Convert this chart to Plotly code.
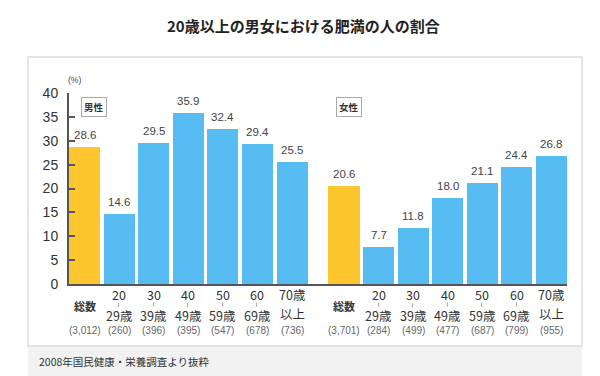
import plotly.graph_objects as go

# ---- data ----
title_text = "20歳以上の男女における肥満の人の割合"
footnote_text = "2008年国民健康・栄養調査より抜粋"
total_label = "総数"
age_top = ["", "20", "30", "40", "50", "60", "70歳"]
age_bottom = ["", "29歳", "39歳", "49歳", "59歳", "69歳", "以上"]
male_values = [28.6, 14.6, 29.5, 35.9, 32.4, 29.4, 25.5]
female_values = [20.6, 7.7, 11.8, 18.0, 21.1, 24.4, 26.8]
male_n = ["3,012", "260", "396", "395", "547", "678", "736"]
female_n = ["3,701", "284", "499", "477", "687", "799", "955"]
group_labels = ["男性", "女性"]
y_ticks = [0, 5, 10, 15, 20, 25, 30, 35, 40]

# ---- style ----
FONT = "Noto Sans CJK JP"
NUMFONT = "Liberation Sans, Noto Sans CJK JP"
ORANGE = "#FDC52E"
BLUE = "#56BCF2"
W, H = 600, 376
L, R, T, B = 69, 567, 93, 284  # plot area pixels


def px(x):
    return (x - L) / (R - L)


def py(y):
    return (B - y) / (B - T)


male_x = list(range(len(male_values)))
female_x = [len(male_values) + 0.5 + i for i in range(len(female_values))]

colors_m = [ORANGE] + [BLUE] * (len(male_values) - 1)
colors_f = [ORANGE] + [BLUE] * (len(female_values) - 1)

fig = go.Figure()
fig.add_trace(go.Bar(x=male_x, y=male_values, marker=dict(color=colors_m, line=dict(width=0)),
                     width=0.9, hoverinfo="skip", showlegend=False))
fig.add_trace(go.Bar(x=female_x, y=female_values, marker=dict(color=colors_f, line=dict(width=0)),
                     width=0.9, hoverinfo="skip", showlegend=False))

ann = []
# value labels
for xs, vs in ((male_x, male_values), (female_x, female_values)):
    for x, v in zip(xs, vs):
        ann.append(dict(x=x, y=v, xref="x", yref="y", text=f"{v:.1f}", showarrow=False,
                        yanchor="bottom", yshift=4, font=dict(family=NUMFONT, size=11.5, color="#444")))

# category labels
for xs, ns in ((male_x, male_n), (female_x, female_n)):
    for i, (x, n) in enumerate(zip(xs, ns)):
        if i == 0:
            ann.append(dict(x=x, y=py(305.5), xref="x", yref="paper", text=f"<b>{total_label}</b>",
                            showarrow=False, font=dict(family=FONT, size=11, color="#333"), yanchor="middle"))
        else:
            has_wave = not age_top[i].endswith("歳")
            ann.append(dict(x=x, y=py(294.5), xref="x", yref="paper", text=age_top[i], showarrow=False,
                            font=dict(family=FONT, size=12.5, color="#333"), yanchor="middle"))
            if has_wave:
                ann.append(dict(x=x, y=py(305), xref="x", yref="paper", text="~", showarrow=False,
                                textangle=90, font=dict(family=NUMFONT, size=8, color="#444"),
                                yanchor="middle", xanchor="center"))
            ann.append(dict(x=x, y=py(315.5 if has_wave else 313), xref="x", yref="paper",
                            text=age_bottom[i], showarrow=False,
                            font=dict(family=FONT, size=12.5, color="#333"), yanchor="middle"))
        ann.append(dict(x=x, y=py(330.5), xref="x", yref="paper", text=f"({n})", showarrow=False,
                        font=dict(family=NUMFONT, size=10, color="#666"), yanchor="middle"))

# group boxes
for label, cx in zip(group_labels, (93.5, 349)):
    ann.append(dict(x=px(cx), y=py(107), xref="paper", yref="paper", text=f"<b>{label}</b>", showarrow=False,
                    font=dict(family=FONT, size=9.5, color="#333"), bordercolor="#aaa", borderwidth=1,
                    borderpad=2, bgcolor="white", xanchor="center", yanchor="middle"))

# unit
ann.append(dict(x=px(74), y=py(80), xref="paper", yref="paper", text="(%)", showarrow=False,
                font=dict(family=NUMFONT, size=8.5, color="#444"), xanchor="center", yanchor="middle"))
# title
ann.append(dict(x=px(303), y=py(25), xref="paper", yref="paper", text=f"<b>{title_text}</b>", showarrow=False,
                font=dict(family=FONT, size=15, color="#222"), xanchor="center", yanchor="middle"))
# footnote
ann.append(dict(x=px(37), y=py(361), xref="paper", yref="paper", text=footnote_text, showarrow=False,
                font=dict(family=FONT, size=10.5, color="#333"), xanchor="left", yanchor="middle"))

shapes = [
    dict(type="rect", xref="paper", yref="paper", x0=px(28), x1=px(582), y0=py(376), y1=py(346),
         fillcolor="#F2F2F2", line=dict(width=0), layer="below"),
    dict(type="rect", xref="paper", yref="paper", x0=px(28), x1=px(582), y0=py(346), y1=py(57),
         fillcolor="rgba(0,0,0,0)", line=dict(color="#DDDDDD", width=1.5), layer="below"),
]

fig.update_layout(
    width=W, height=H,
    margin=dict(l=L, r=W - R, t=T, b=H - B, pad=0),
    paper_bgcolor="white", plot_bgcolor="white",
    bargap=0, barmode="overlay",
    annotations=ann, shapes=shapes,
    font=dict(family=FONT),
    xaxis=dict(range=[-0.45, female_x[-1] + 0.45], showticklabels=False, ticks="", showgrid=False,
               zeroline=False, showline=True, linecolor="#555", linewidth=2, fixedrange=True),
    yaxis=dict(range=[0, 40], tickvals=y_ticks, ticks="inside", ticklen=6, tickwidth=1.5, tickcolor="#555",
               showgrid=False, zeroline=False, showline=True, linecolor="#555", linewidth=2,
               tickfont=dict(family=NUMFONT, size=14, color="#333"), ticklabelstandoff=6, fixedrange=True),
)

fig.write_html("out.html", config={"displayModeBar": False},
               post_script="document.body.style.margin='0';")
